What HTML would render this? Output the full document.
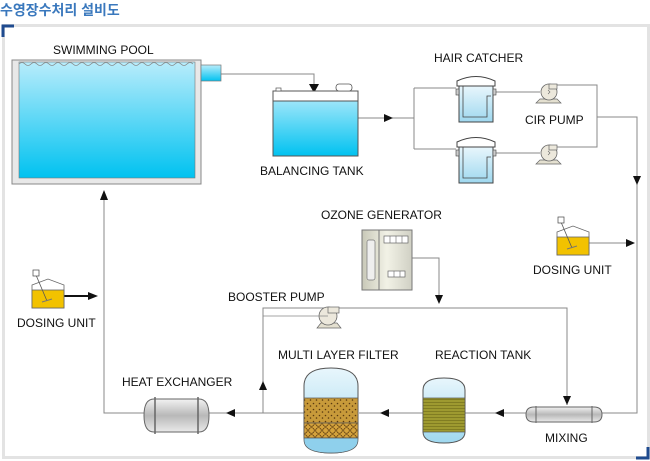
<!DOCTYPE html>
<html><head><meta charset="utf-8"><style>
html,body{margin:0;padding:0;background:#fff;}
svg{display:block;}
text{font-family:"Liberation Sans",Arial,sans-serif;font-size:12px;fill:#111;}
</style></head><body>
<svg width="650" height="461" viewBox="0 0 650 461" xmlns="http://www.w3.org/2000/svg">
<defs>
<linearGradient id="water" x1="0" y1="0" x2="0" y2="1"><stop offset="0" stop-color="#b8ecfb"/><stop offset="1" stop-color="#00c2f0"/></linearGradient>
<linearGradient id="lw" x1="0" y1="0" x2="0" y2="1"><stop offset="0" stop-color="#e8f6fc"/><stop offset="1" stop-color="#9fd8ef"/></linearGradient>
<linearGradient id="steel" x1="0" y1="0" x2="0" y2="1"><stop offset="0" stop-color="#f2f2f2"/><stop offset="0.5" stop-color="#b8b8b8"/><stop offset="1" stop-color="#eaeaea"/></linearGradient>
<linearGradient id="oz" x1="0" y1="0" x2="1" y2="0"><stop offset="0" stop-color="#c8c8b8"/><stop offset="0.5" stop-color="#f2f2e6"/><stop offset="1" stop-color="#d0d0c4"/></linearGradient>
<pattern id="sand" width="6" height="6" patternUnits="userSpaceOnUse"><rect width="6" height="6" fill="#c89a3a"/><circle cx="1.5" cy="1.5" r="0.8" fill="#5a3a10"/><circle cx="4.5" cy="4" r="0.8" fill="#5a3a10"/></pattern>
<pattern id="grav" width="7" height="7" patternUnits="userSpaceOnUse"><rect width="7" height="7" fill="#d4a23c"/><circle cx="3.5" cy="3.5" r="2.8" fill="none" stroke="#5a3a10" stroke-width="0.7"/></pattern>
<pattern id="rx" width="4" height="3" patternUnits="userSpaceOnUse"><rect width="4" height="3" fill="#9e9a30"/><line x1="0" y1="0.5" x2="4" y2="0.5" stroke="#6e6a18" stroke-width="0.6"/></pattern>
</defs>

<!-- title & frame -->
<text x="0" y="15" style="font-family:'Liberation Sans','Noto Sans CJK KR',sans-serif;font-size:14px;fill:#3a78bd;font-weight:bold">수영장수처리 설비도</text>
<rect x="3.5" y="25.5" width="645" height="432" fill="none" stroke="#e3e3e3" stroke-width="3"/>
<path d="M3 37 V26 H14" fill="none" stroke="#1f4b8f" stroke-width="3"/>
<path d="M636 458 H648 V447" fill="none" stroke="#1f4b8f" stroke-width="3"/>

<!-- connectors -->
<g fill="none" stroke="#888" stroke-width="1">
<path d="M221 74 H314 V92"/>
<path d="M358 118 H414"/>
<path d="M414 88 V149 M414 88 H456 M414 149 H456"/>
<path d="M496 92 H540 M496 153 H540"/>
<path d="M556 85 H597 V147 H556"/>
<path d="M597 117 H637 V413 H602"/>
<path d="M589 243 H630"/>
<path d="M412 258 H439 V300"/>
<path d="M263 413 V308 H567 V405"/>
<path d="M526 413 H465 M423 413 H359 M304 413 H209 M144 413 H104 V196"/>
</g>
<g fill="#111">
<path d="M309 84 L319 84 L314 93Z"/>
<path d="M384 114 L393 118 L384 122Z"/>
<path d="M633 176 L641 176 L637 185Z"/>
<path d="M626 239 L635 243 L626 247Z"/>
<path d="M435 295 L443 295 L439 304Z"/>
<path d="M563 396 L571 396 L567 405Z"/>
<path d="M259 390 L267 390 L263 381Z"/>
<path d="M235 409 L235 417 L226 413Z"/>
<path d="M389 409 L389 417 L380 413Z"/>
<path d="M504 409 L504 417 L495 413Z"/>
<path d="M100 200 L108 200 L104 190Z"/>
<path d="M88 292 L98 296 L88 300Z"/>
</g>
<line x1="64" y1="296" x2="90" y2="296" stroke="#111" stroke-width="2"/>

<!-- swimming pool -->
<rect x="12" y="60" width="189" height="124" fill="#e8e8e8" stroke="#888"/>
<rect x="19" y="62" width="176" height="116" fill="url(#water)" stroke="#777" stroke-width="0.6"/>
<path d="M19 64 q3 -3 6 0 t6 0 t6 0 t6 0 t6 0 t6 0 t6 0 t6 0 t6 0 t6 0 t6 0 t6 0 t6 0 t6 0 t6 0 t6 0 t6 0 t6 0 t6 0 t6 0 t6 0 t6 0 t6 0 t6 0 t6 0 t6 0 t6 0 t6 0 t6 0" fill="none" stroke="#888" stroke-width="0.8"/>
<rect x="201" y="65" width="20" height="16" fill="url(#water)" stroke="#777" stroke-width="0.7"/>
<text x="53" y="54">SWIMMING POOL</text>

<!-- balancing tank -->
<rect x="273" y="91" width="85" height="65" fill="url(#water)" stroke="#555"/>
<rect x="273" y="91" width="85" height="10" fill="#fff" stroke="#555"/>
<rect x="276" y="88" width="5" height="3" fill="#fff" stroke="#555" stroke-width="0.7"/>
<rect x="336" y="84" width="16" height="7" rx="3" fill="#fff" stroke="#555" stroke-width="0.8"/>
<text x="260" y="175">BALANCING TANK</text>

<!-- hair catchers -->
<g id="hc">
<path d="M457 81 Q476 72 495 81 V86 H457Z" fill="#fff" stroke="#444"/>
<rect x="459" y="86" width="34" height="36" fill="url(#lw)" stroke="#444"/>
<path d="M463 86 V117 H487 V96 H491" fill="none" stroke="#444" stroke-width="0.8"/>
<rect x="456" y="89" width="3" height="6" fill="#ccc" stroke="#444" stroke-width="0.6"/>
<rect x="493" y="89" width="3" height="6" fill="#ccc" stroke="#444" stroke-width="0.6"/>
</g>
<use href="#hc" transform="translate(0,61)"/>
<text x="434" y="62">HAIR CATCHER</text>

<!-- pumps -->
<g id="pp">
<path d="M540 99 L536 103 H561 L557 99Z" fill="#e4e0d0" stroke="#666" stroke-width="0.7"/>
<circle cx="549" cy="92" r="8" fill="#ece8dc" stroke="#666" stroke-width="0.8"/>
<rect x="549" y="84" width="8" height="5" fill="#ece8dc" stroke="#666" stroke-width="0.7"/>
<path d="M548 90 l2 2 l-2 2" fill="none" stroke="#666" stroke-width="0.6"/>
</g>
<use href="#pp" transform="translate(0,61)"/>
<text x="525" y="124">CIR PUMP</text>

<!-- dosing units -->
<g id="du">
<path d="M557 232 L573 226 L589 232 V255 H557Z" fill="#fff" stroke="#666" stroke-width="0.8"/>
<rect x="557" y="237" width="32" height="18" fill="#f2c200" stroke="#666" stroke-width="0.8"/>
<line x1="561" y1="222" x2="572" y2="248" stroke="#555" stroke-width="0.8"/>
<rect x="558" y="217" width="6" height="6" fill="#fff" stroke="#444" stroke-width="0.7"/>
<line x1="567" y1="249" x2="577" y2="246" stroke="#777" stroke-width="1"/>
</g>
<text x="533" y="274">DOSING UNIT</text>
<use href="#du" transform="translate(-525,53)"/>
<text x="17" y="327">DOSING UNIT</text>

<!-- ozone generator -->
<rect x="362" y="230" width="50" height="60" fill="url(#oz)" stroke="#777"/>
<line x1="379" y1="230" x2="379" y2="290" stroke="#777"/>
<rect x="367" y="240" width="8" height="40" rx="2" fill="#eee" stroke="#777" stroke-width="0.7"/>
<rect x="384" y="236" width="24" height="7" fill="#fff" stroke="#666" stroke-width="0.7"/>
<path d="M390 236 V243 M396 236 V243 M402 236 V243" stroke="#666" stroke-width="0.6"/>
<rect x="388" y="271" width="17" height="6" fill="#fff" stroke="#666" stroke-width="0.7"/>
<path d="M394 271 V277 M400 271 V277" stroke="#666" stroke-width="0.6"/>
<text x="321" y="219">OZONE GENERATOR</text>

<!-- booster pump -->
<path d="M321 323 L317 328 H341 L337 323Z" fill="#e4e0d0" stroke="#666" stroke-width="0.7"/>
<circle cx="328" cy="316" r="9" fill="#ece8dc" stroke="#666" stroke-width="0.8"/>
<rect x="328" y="307" width="11" height="6" fill="#ece8dc" stroke="#666" stroke-width="0.7"/>
<line x1="263" y1="316" x2="328" y2="316" stroke="#888" stroke-width="0.8"/>
<text x="228" y="301">BOOSTER PUMP</text>

<!-- multi layer filter -->
<path d="M304 386 Q304 368 331 368 Q358 368 358 386 V435 Q358 453 331 453 Q304 453 304 435Z" fill="url(#lw)" stroke="#555"/>
<rect x="304" y="398" width="54" height="25" fill="url(#sand)" stroke="#555" stroke-width="0.7"/>
<rect x="304" y="423" width="54" height="15" fill="url(#grav)" stroke="#555" stroke-width="0.7"/>
<path d="M304 438 H358 V440 Q358 453 331 453 Q304 453 304 440Z" fill="#8fd0ec" stroke="#555" stroke-width="0.7"/>
<text x="278" y="359">MULTI LAYER FILTER</text>

<!-- reaction tank -->
<path d="M423 390 Q423 378 444 378 Q465 378 465 390 V432 Q465 443 444 443 Q423 443 423 432Z" fill="url(#lw)" stroke="#555"/>
<rect x="423" y="398" width="42" height="34" fill="url(#rx)" stroke="#555" stroke-width="0.7"/>
<text x="435" y="359">REACTION TANK</text>

<!-- mixing -->
<path d="M534 407 H594 Q602 407 602 414.5 Q602 422 594 422 H534 Q526 422 526 414.5 Q526 407 534 407Z" fill="url(#steel)" stroke="#666"/>
<path d="M536 406 V423 M592 406 V423" stroke="#666"/>
<text x="545" y="442">MIXING</text>

<!-- heat exchanger -->
<path d="M154 399 H199 Q209 399 209 415.5 Q209 432 199 432 H154 Q144 432 144 415.5 Q144 399 154 399Z" fill="url(#steel)" stroke="#666"/>
<path d="M155 397 V434 M198 397 V434" stroke="#666" stroke-width="1.5"/>
<text x="122" y="386">HEAT EXCHANGER</text>
</svg>
</body></html>
